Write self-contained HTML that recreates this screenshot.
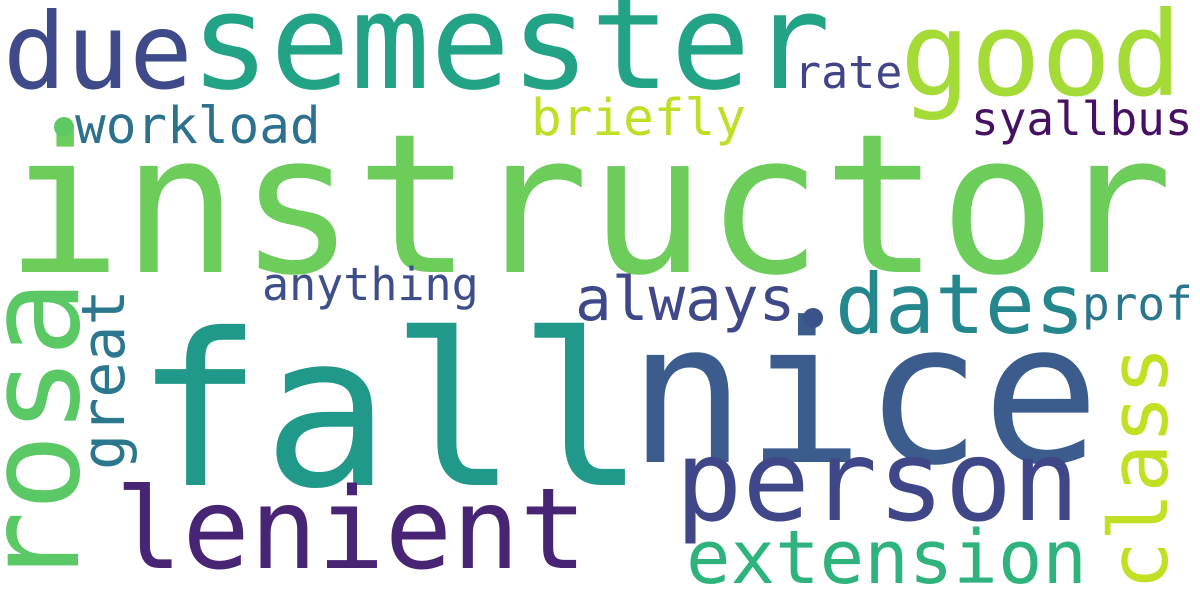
<!DOCTYPE html>
<html><head><meta charset="utf-8">
<style>
html,body{margin:0;padding:0;background:#fff;}
svg{display:block;}
text{font-family:"DejaVu Sans Mono","Liberation Mono",monospace;}
</style></head>
<body>
<svg id="cloud" width="1200" height="600" viewBox="0 0 1200 600">
<rect width="1200" height="600" fill="#ffffff"/>
</svg>
<script>
const words = ["instructor","fall","nice","semester","due","good","rosa","person","lenient","extension","class","dates","always","great","anything","prof","workload","briefly","rate","syallbus"];
const sizes = [194,212,196,133,105,117,128,112,112,74,81,83,61,60,45,46,51,51,45,46];
const colors = ["#6ccd5a","#21998a","#3b5c8c","#22a385","#3e4a89","#a5db36","#5ac864","#3f4788","#482474","#2eb37c","#c2df23","#24878e","#3f4889","#2b788e","#3d4e8a","#2a768e","#2c718e","#bddf26","#414487","#471163"];
// layout: [x, y, rotated]
const layout = [[5,272,0],[135,485,0],[628,462,0],[190,88,0],[3,88,0],[900,95,0],[78,588,1],[675,520,0],[115,568,0],[686,583,0],[1167,590,1],[835,333,0],[575,320,0],[124,470,1],[262,300,0],[1082,320,0],[75,143,0],[531,135,0],[794,88,0],[971,135,0]];
const svg = document.getElementById('cloud');
const NS = "http://www.w3.org/2000/svg";
words.forEach((w,i)=>{
  const t = document.createElementNS(NS,'text');
  const [x,y,r] = layout[i];
  t.setAttribute('x',x); t.setAttribute('y',y);
  if(r) t.setAttribute('transform','rotate(-90 '+x+' '+y+')');
  t.setAttribute('font-size',sizes[i]);
  t.setAttribute('fill',colors[i]);
  t.textContent = w;
  
  
  svg.appendChild(t);
});
const dots = [[64,127,10,"#5ec962"],[813,318,10,"#3b528b"]];
dots.forEach((d,i)=>{
  const c = document.createElementNS(NS,'circle');
  c.setAttribute('cx',d[0]); c.setAttribute('cy',d[1]); c.setAttribute('r',d[2]); c.setAttribute('fill',d[3]);
  
  
  svg.appendChild(c);
});
</script>
</body></html>
